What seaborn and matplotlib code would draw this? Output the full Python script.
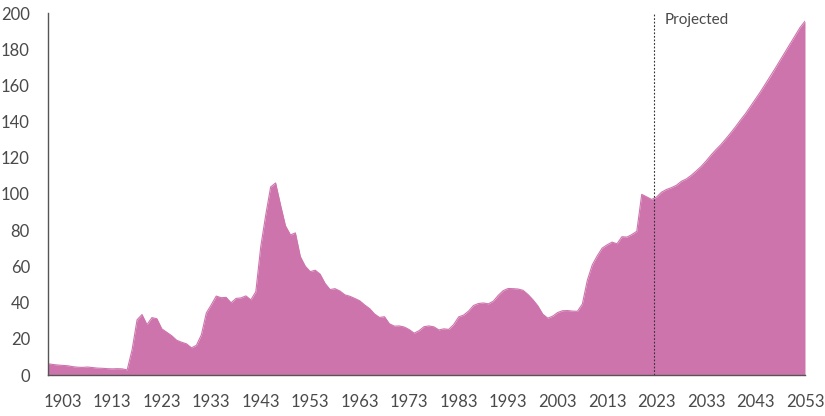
import numpy as np
import pandas as pd
import matplotlib
matplotlib.use("Agg")
import matplotlib.pyplot as plt
import seaborn as sns

hist_years = list(range(1900, 2023))
hist_values = [
    6.2, 5.8, 5.5, 5.3, 5.1, 4.6, 4.3, 4.2, 4.4, 4.1,
    3.8, 3.7, 3.5, 3.4, 3.5, 3.4, 2.8, 14.0, 30.5, 33.4,
    27.8, 31.7, 31.1, 25.5, 23.6, 21.7, 19.2, 18.1, 17.2, 15.0,
    16.4, 22.2, 34.3, 38.8, 43.6, 42.7, 42.9, 39.9, 42.3, 42.6,
    43.7, 41.5, 46.0, 70.9, 88.3, 103.9, 106.1, 93.9, 82.4, 77.4,
    78.5, 65.4, 60.1, 57.1, 57.9, 55.7, 50.6, 47.2, 47.7, 46.4,
    44.3, 43.5, 42.3, 41.0, 38.7, 36.7, 33.7, 31.8, 32.2, 28.3,
    27.0, 27.1, 26.5, 25.1, 23.1, 24.5, 26.7, 27.1, 26.6, 24.9,
    25.5, 25.2, 27.9, 32.1, 33.1, 35.3, 38.4, 39.5, 39.8, 39.3,
    40.8, 44.0, 46.6, 47.8, 47.7, 47.5, 46.8, 44.5, 41.6, 38.2,
    33.6, 31.4, 32.5, 34.5, 35.5, 35.6, 35.3, 35.2, 39.2, 52.3,
    60.8, 65.8, 70.1, 71.9, 73.4, 72.5, 76.4, 76.2, 77.6, 79.4,
    99.8, 98.4, 97.0,
]
proj_years = list(range(2023, 2054))
proj_values = [
    98.3, 101.0, 102.5, 103.5, 104.8, 107.0, 108.3, 110.3, 112.7, 115.2,
    118.2, 121.5, 124.5, 127.3, 130.5, 133.8, 137.3, 141.0, 144.5, 148.5,
    152.5, 156.5, 160.8, 165.0, 169.5, 174.0, 178.5, 183.0, 187.5, 192.0,
    195.5,
]
tick_years = list(range(1903, 2054, 10))
y_ticks = list(range(0, 201, 20))
projection_start = 2022.5
label_text = "Projected"

df = pd.DataFrame({
    "year": hist_years + proj_years,
    "debt": hist_values + proj_values,
})

sns.set_theme(style="white")
plt.rcParams["font.family"] = ["Lato", "DejaVu Sans"]

fill_color = "#CE74AD"
axis_color = "#555555"
text_color = "#4a4a4a"

fig = plt.figure(figsize=(8.25, 4.16), dpi=100)
ax = fig.add_axes([48 / 825, 1 - 375 / 416, (805 - 48) / 825, (375 - 13) / 416])

ax.fill_between(df["year"], 0, df["debt"], color=fill_color, linewidth=0)
sns.lineplot(data=df, x="year", y="debt", ax=ax, color=fill_color, linewidth=0.8)

ax.axvline(projection_start, color="#333333", linestyle=(0, (1.6, 1.6)), linewidth=0.8)
ax.text(2024.6, 196, label_text, color=text_color, fontsize=11, va="center", ha="left")

ax.set_xlim(1900, 2053)
ax.set_ylim(0, 200)
ax.set_xticks(tick_years)
ax.set_yticks(y_ticks)
ax.set_xlabel("")
ax.set_ylabel("")

for side in ["top", "right"]:
    ax.spines[side].set_visible(False)
for side in ["left", "bottom"]:
    ax.spines[side].set_color(axis_color)
    ax.spines[side].set_linewidth(1.0)

ax.tick_params(axis="x", direction="in", length=5, width=1, color=axis_color,
               labelcolor=text_color, labelsize=12, pad=14)
ax.tick_params(axis="y", direction="in", length=4, width=1, color=axis_color,
               labelcolor=text_color, labelsize=12, pad=13)
ax.grid(False)

fig.savefig("out.png", dpi=100)
